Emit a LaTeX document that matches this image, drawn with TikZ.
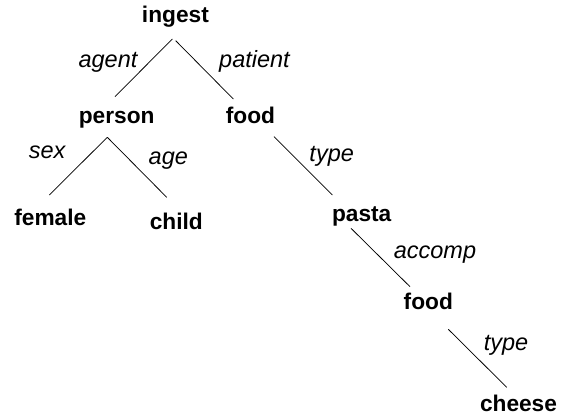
\documentclass[tikz,border=0pt]{standalone}
\usepackage{fontspec}
\setmainfont{Liberation Sans}
\begin{document}
\begin{tikzpicture}[x=1pt,y=-1pt,
  concept/.style={anchor=base,inner sep=0pt,font=\fontsize{22.7}{26}\selectfont\bfseries},
  role/.style={anchor=base,inner sep=0pt,font=\fontsize{23.5}{27}\selectfont\itshape},
  arc/.style={draw=black,line width=0.75pt}]
\useasboundingbox (0,0) rectangle (561,419);

% concepts
\node[concept] (ingest) at (175.4,22.7) {ingest};
\node[concept] (person) at (116.7,124) {person};
\node[concept] (food)   at (250.5,124) {food};
\node[concept] (female) at (50.3,226) {female};
\node[concept] (child)  at (176.3,229.5) {child};
\node[concept] (pasta)  at (361.7,221.7) {pasta};
\node[concept] (food2)  at (428.3,309.3) {food};
\node[concept] (cheese) at (518.5,411.5) {cheese};

% relation labels
\node[role] (lagent)   at (108,67.7)   {agent};
\node[role] (lpatient) at (254.5,67.7) {patient};
\node[role] (lsex)     at (47.2,158.3) {sex};
\node[role] (lage)     at (168.3,164.5) {age};
\node[role] (ltype)    at (331.7,162)  {type};
\node[role] (laccomp)  at (435,258.3)  {accomp};
\node[role] (ltype2)   at (506,350)    {type};

% arcs
\draw[arc] ([shift={(-3.1,16.3)}]ingest.base) -- ([shift={(-1.7,-27.3)}]person.base);
\draw[arc] ([shift={(0.3,18)}]ingest.base) -- ([shift={(-17.2,-25)}]food.base);
\draw[arc] ([shift={(-9.4,13.3)}]person.base) -- ([shift={(-1,-31)}]female.base);
\draw[arc] ([shift={(-9.4,13.3)}]person.base) -- ([shift={(-9.6,-32.2)}]child.base);
\draw[arc] ([shift={(23.5,12.7)}]food.base) -- ([shift={(-29.4,-26.7)}]pasta.base);
\draw[arc] ([shift={(-10.7,6.6)}]pasta.base) -- ([shift={(-18.3,-22.6)}]food2.base);
\draw[arc] ([shift={(20,20)}]food2.base) -- ([shift={(-11.8,-24.2)}]cheese.base);
\end{tikzpicture}
\end{document}
